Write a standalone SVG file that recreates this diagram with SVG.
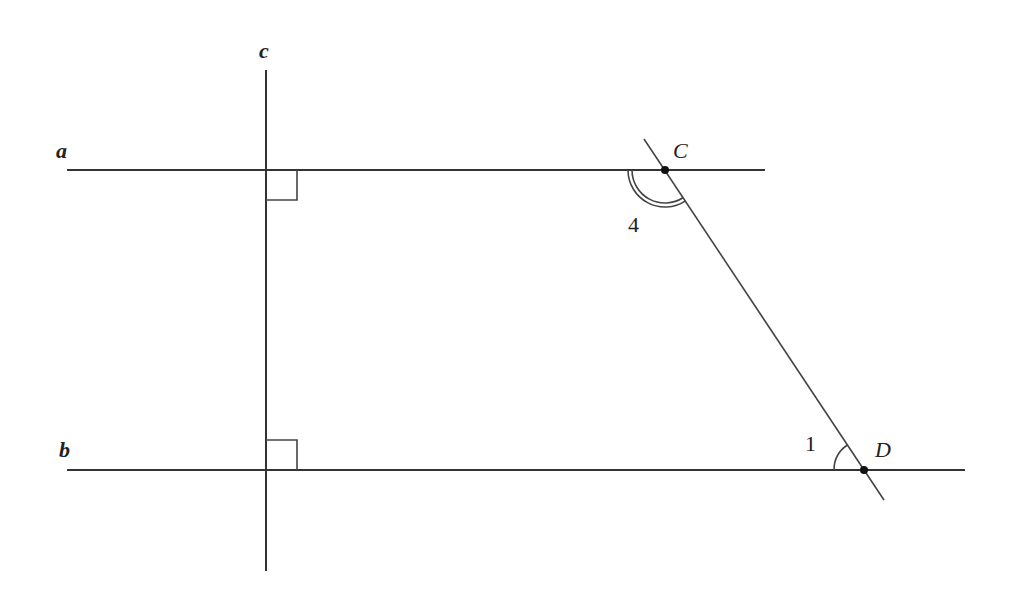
<svg xmlns="http://www.w3.org/2000/svg" width="1024" height="611" viewBox="0 0 1024 611">
<style>
.ln{stroke:#333;stroke-width:2;fill:none}
.th{stroke:#444;stroke-width:1.6;fill:none}
.lbl{font-family:"Liberation Serif","DejaVu Serif",serif;font-size:22px;fill:#222}
.it{font-style:italic}
.bd{font-weight:bold}
</style>
<rect width="1024" height="611" fill="#fff"/>
<g id="lines">
<line id="line-a" class="ln" x1="67" y1="170" x2="765" y2="170"/>
<line id="line-b" class="ln" x1="67" y1="470" x2="965" y2="470"/>
<line id="line-c" class="ln" x1="266" y1="70" x2="266" y2="571"/>
<line id="line-CD" class="th" x1="644" y1="139" x2="884" y2="500"/>
</g>
<g id="marks">
<path class="th" d="M266,200 H297 V170"/>
<path class="th" d="M266,440 H297 V470"/>
<path class="th" d="M628,170 A37,37 0 0 0 685.5,200.8"/>
<path class="th" d="M632,170 A33,33 0 0 0 683.3,197.5"/>
<path class="th" d="M834,470 A30,30 0 0 1 847.4,445"/>
</g>
<g id="points">
<circle cx="665" cy="170" r="4" fill="#111"/>
<circle cx="864" cy="470" r="4" fill="#111"/>
</g>
<g id="labels">
<text class="lbl it bd" x="259" y="58">c</text>
<text class="lbl it bd" x="56" y="158">a</text>
<text class="lbl it bd" x="59" y="457">b</text>
<text class="lbl it" x="673" y="158">C</text>
<text class="lbl it" x="875" y="457">D</text>
<text class="lbl" x="628" y="232">4</text>
<text class="lbl" x="805" y="451">1</text>
</g>
</svg>
